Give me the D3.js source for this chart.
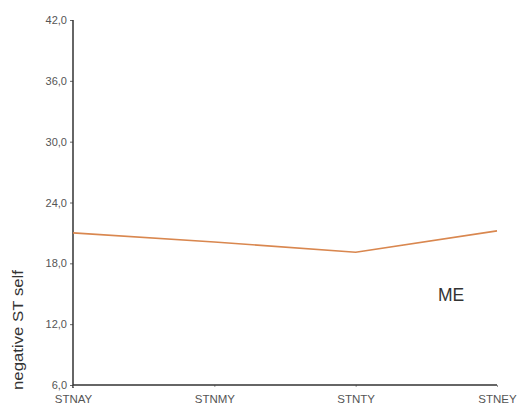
<!DOCTYPE html>
<html><head><meta charset="utf-8">
<script src="https://cdn.jsdelivr.net/npm/d3@7"></script>
<style>body{margin:0;background:#fff}svg{display:block}</style>
</head><body>
<svg id="c" width="519" height="406"></svg>
<script>
const categories = ["STNAY", "STNMY", "STNTY", "STNEY"];
const values = [21.0, 20.1, 19.1, 21.2];
const yTicks = [6, 12, 18, 24, 30, 36, 42];
const seriesLabel = "ME";
const yTitle = "negative ST self";

const FONT = "Arial, 'Liberation Sans', sans-serif";
const svg = d3.select("#c");
const x = d3.scalePoint().domain(categories).range([73, 497]);
const y = d3.scaleLinear().domain([6, 42]).range([385, 20]);
const fmt = d => d.toFixed(1).replace(".", ",");

const yAxis = svg.append("g").attr("transform", "translate(73,0)")
  .call(d3.axisLeft(y).tickValues(yTicks).tickFormat(fmt).tickSize(3).tickPadding(3));
yAxis.select(".domain").remove();
yAxis.selectAll(".tick line").attr("stroke", "#666");
yAxis.selectAll("text").attr("fill", "#555").style("font-family", FONT).style("font-size", "11px");
svg.append("line").attr("x1", 73).attr("x2", 73).attr("y1", y(42)).attr("y2", y(6) + 3)
  .attr("stroke", "#333").attr("stroke-width", 1.5);

const xAxis = svg.append("g").attr("transform", "translate(0,385)")
  .call(d3.axisBottom(x).tickSize(2).tickPadding(8));
xAxis.select(".domain").remove();
xAxis.selectAll(".tick line").attr("stroke", "#999");
xAxis.selectAll("text").attr("fill", "#555").style("font-family", FONT).style("font-size", "11.5px");
svg.append("line").attr("x1", 73).attr("x2", 497).attr("y1", 385).attr("y2", 385)
  .attr("stroke", "#333").attr("stroke-width", 1.5);

svg.append("path").datum(values)
  .attr("fill", "none").attr("stroke", "#d9874f").attr("stroke-width", 1.6)
  .attr("d", d3.line().x((d, i) => x(categories[i])).y(d => y(d)));

svg.append("text").attr("x", 451).attr("y", 300.5).attr("text-anchor", "middle")
  .attr("fill", "#333").style("font-family", FONT).style("font-size", "17.5px")
  .text(seriesLabel);

svg.append("text").attr("transform", "translate(23,330) rotate(-90)").attr("text-anchor", "middle")
  .attr("fill", "#333").style("font-family", FONT).style("font-size", "15px")
  .attr("textLength", 120).attr("lengthAdjust", "spacingAndGlyphs")
  .text(yTitle);
</script>
</body></html>
